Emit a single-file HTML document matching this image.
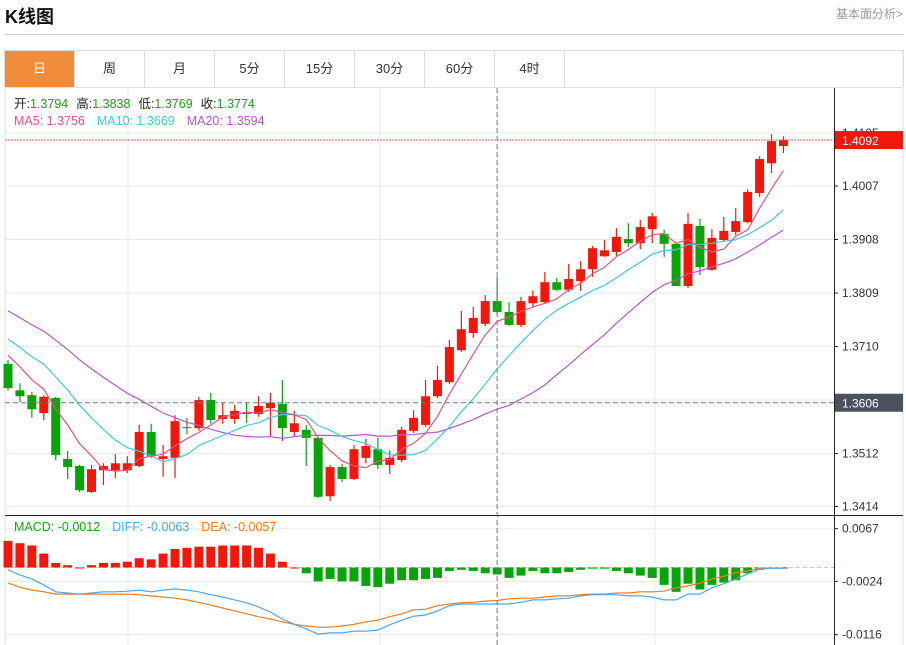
<!DOCTYPE html>
<html><head><meta charset="utf-8">
<style>
body{margin:0;background:#fff;font-family:"Liberation Sans","Noto Sans CJK SC",sans-serif;}
#wrap{position:relative;width:906px;height:645px;overflow:hidden;}
.title{position:absolute;left:5px;top:3px;font-size:18px;font-weight:bold;color:#111;}
.more{position:absolute;right:3px;top:5px;font-size:12px;color:#999;}
.hr{position:absolute;left:4px;top:34px;width:900px;height:1px;background:#ccc;}
.tabs{position:absolute;left:4px;top:50px;width:898px;height:36px;border:1px solid #ddd;border-bottom:none;display:flex;}
.tab{width:69px;height:36px;border-right:1px solid #ddd;text-align:center;line-height:36px;font-size:13px;color:#333;}
.tab.on{background:#f08c3c;color:#fff;}
svg{position:absolute;left:0;top:0;}
</style></head><body>
<div id="wrap">
<div class="title">K线图</div>
<div class="more">基本面分析&gt;</div>
<div class="hr"></div>
<div class="tabs">
<div class="tab on">日</div>
<div class="tab">周</div>
<div class="tab">月</div>
<div class="tab">5分</div>
<div class="tab">15分</div>
<div class="tab">30分</div>
<div class="tab">60分</div>
<div class="tab">4时</div>
</div>
<svg id="chart" width="906" height="645"></svg>
</div>
<script>
const opens=[1.3678,1.3629,1.3620,1.3587,1.3615,1.3502,1.3489,1.3441,1.3481,1.3481,1.3481,1.3489,1.3552,1.3502,1.3504,1.3561,1.3559,1.3611,1.3576,1.3576,1.3587,1.3585,1.3596,1.3604,1.3552,1.3556,1.3541,1.3433,1.3487,1.3465,1.3504,1.3520,1.3491,1.3500,1.3554,1.3565,1.3618,1.3644,1.3703,1.3735,1.3752,1.3794,1.3774,1.3750,1.3790,1.3792,1.3829,1.3815,1.3831,1.3853,1.3877,1.3885,1.3909,1.3901,1.3927,1.3918,1.3900,1.3822,1.3933,1.3852,1.3907,1.3922,1.3940,1.3994,1.4049,1.4081];
const highs=[1.3685,1.3642,1.3626,1.3620,1.3617,1.3517,1.3491,1.3491,1.3494,1.3511,1.3507,1.3565,1.3567,1.3528,1.3583,1.3578,1.3617,1.3624,1.3607,1.3602,1.3607,1.3618,1.3624,1.3648,1.3591,1.3565,1.3541,1.3491,1.3493,1.3528,1.3539,1.3541,1.3518,1.3561,1.3592,1.3648,1.3674,1.3722,1.3776,1.3783,1.3805,1.3838,1.3792,1.3802,1.3814,1.3848,1.3837,1.3863,1.3868,1.3896,1.3907,1.3929,1.3938,1.3944,1.3957,1.3926,1.3900,1.3957,1.3946,1.3927,1.3950,1.3966,1.4001,1.4062,1.4103,1.4099];
const lows=[1.3629,1.3607,1.3578,1.3574,1.3500,1.3465,1.3441,1.3439,1.3454,1.3467,1.3476,1.3487,1.3504,1.3469,1.3467,1.3548,1.3554,1.3567,1.3567,1.3567,1.3569,1.3580,1.3544,1.3535,1.3544,1.3489,1.3430,1.3424,1.3459,1.3463,1.3494,1.3483,1.3474,1.3496,1.3550,1.3561,1.3615,1.3641,1.3700,1.3726,1.3748,1.3769,1.3748,1.3746,1.3783,1.3790,1.3813,1.3811,1.3813,1.3839,1.3876,1.3877,1.3894,1.3890,1.3901,1.3876,1.3822,1.3818,1.3842,1.3850,1.3905,1.3916,1.3938,1.3987,1.4031,1.4068];
const closes=[1.3633,1.3618,1.3594,1.3617,1.3509,1.3487,1.3444,1.3483,1.3489,1.3494,1.3494,1.3552,1.3507,1.3507,1.3572,1.3559,1.3611,1.3574,1.3583,1.3591,1.3585,1.3600,1.3606,1.3559,1.3568,1.3541,1.3432,1.3487,1.3465,1.3520,1.3526,1.3491,1.3504,1.3556,1.3578,1.3618,1.3648,1.3709,1.3742,1.3763,1.3794,1.3774,1.3750,1.3794,1.3803,1.3829,1.3815,1.3835,1.3853,1.3892,1.3888,1.3913,1.3901,1.3931,1.3951,1.3900,1.3822,1.3937,1.3857,1.3911,1.3924,1.3942,1.3996,1.4057,1.4090,1.4092];
const priorCloses=[1.3870,1.3860,1.3850,1.3845,1.3835,1.3825,1.3815,1.3800,1.3795,1.3785,1.3775,1.3765,1.3755,1.3745,1.3730,1.3725,1.3715,1.3705,1.3692];
const diffVals=[-0.0004,-0.0013,-0.0020,-0.0030,-0.0042,-0.0044,-0.0046,-0.0044,-0.0042,-0.0042,-0.0041,-0.0039,-0.0042,-0.0039,-0.0037,-0.0039,-0.0042,-0.0047,-0.0051,-0.0056,-0.0061,-0.0068,-0.0077,-0.0089,-0.0098,-0.0106,-0.0115,-0.0113,-0.0113,-0.0110,-0.0110,-0.0108,-0.0099,-0.0091,-0.0084,-0.0082,-0.0075,-0.0066,-0.0063,-0.0063,-0.0063,-0.0063,-0.0063,-0.0060,-0.0056,-0.0056,-0.0054,-0.0053,-0.0049,-0.0047,-0.0047,-0.0047,-0.0049,-0.0049,-0.0051,-0.0056,-0.0056,-0.0046,-0.0046,-0.0035,-0.0028,-0.0020,-0.0011,-0.0003,-0.0001,-0.0001];
const deaVals=[-0.0027,-0.0034,-0.0039,-0.0042,-0.0046,-0.0046,-0.0046,-0.0046,-0.0046,-0.0046,-0.0046,-0.0047,-0.0049,-0.0051,-0.0053,-0.0056,-0.0060,-0.0065,-0.0070,-0.0075,-0.0080,-0.0085,-0.0089,-0.0094,-0.0098,-0.0101,-0.0103,-0.0103,-0.0101,-0.0098,-0.0094,-0.0091,-0.0085,-0.0080,-0.0073,-0.0072,-0.0066,-0.0063,-0.0061,-0.0060,-0.0058,-0.0057,-0.0054,-0.0053,-0.0053,-0.0051,-0.0049,-0.0049,-0.0047,-0.0046,-0.0046,-0.0044,-0.0044,-0.0042,-0.0042,-0.0041,-0.0035,-0.0032,-0.0027,-0.0020,-0.0015,-0.0009,-0.0006,-0.0001,-0.0001,-0.0001];
const priceTicks=[1.4105,1.4007,1.3908,1.3809,1.3710,1.3512,1.3414];
const macdTicks=[0.0067,-0.0024,-0.0116];
const lastPrice=1.4092, crossPrice=1.3606, hoverIndex=41;

const NS="http://www.w3.org/2000/svg";
const svg=document.getElementById('chart');
function mk(tag,attrs,parent){const e=document.createElementNS(NS,tag);for(const k in attrs)e.setAttribute(k,attrs[k]);(parent||svg).appendChild(e);return e;}
const X=i=>8+i*11.93;
const Y=p=>186+(1.4007-p)*5405;
const YM=v=>567.5-v*5792;
const L=5,R=834;

const grid=mk('g',{});


[1.4105,1.4007,1.3908,1.3809,1.3710,1.3611,1.3512,1.3414].forEach(p=>mk('line',{x1:L,x2:R,y1:Y(p),y2:Y(p),stroke:'#e3eaf0'},grid));
[0.0067,-0.0024,-0.0116].forEach(v=>mk('line',{x1:L,x2:R,y1:YM(v),y2:YM(v),stroke:'#e3eaf0'},grid));
[128,380,655].forEach(x=>mk('line',{x1:x,x2:x,y1:88,y2:645,stroke:'#e3eaf0'},grid));
mk('line',{x1:L,x2:L,y1:88,y2:645,stroke:'#e0e0e0'},grid);
mk('line',{x1:L,x2:903,y1:87.5,y2:87.5,stroke:'#e0e0e0'},grid);
mk('line',{x1:903,x2:903,y1:50,y2:645,stroke:'#e0e0e0'},grid);
const sep=mk('line',{x1:L,x2:903,y1:515.5,y2:515.5,stroke:'#222'});


const ax=mk('line',{x1:R+.5,x2:R+.5,y1:88,y2:645,stroke:'#222'});


const zl=mk('line',{x1:L,x2:R,y1:YM(0),y2:YM(0),stroke:'#9fd8e0','stroke-dasharray':'4,3'});



priceTicks.forEach(p=>{
 mk('line',{x1:R,x2:R+4,y1:Y(p),y2:Y(p),stroke:'#222'});
 const t=mk('text',{x:842,y:Y(p)+4,'font-size':12,fill:'#333'});
 t.textContent=p.toFixed(4);
 
 
});
macdTicks.forEach(v=>{
 mk('line',{x1:R,x2:R+4,y1:YM(v),y2:YM(v),stroke:'#222'});
 const t=mk('text',{x:842,y:YM(v)+4,'font-size':12,fill:'#333'});
 t.textContent=v.toFixed(4);
 
 
});

const all=priorCloses.concat(closes), off=priorCloses.length;
function ma(n){return closes.map((c,i)=>{let s=0;for(let k=0;k<n;k++)s+=all[off+i-k];return s/n;});}
const ma5=ma(5),ma10=ma(10),ma20=ma(20);

const cg=mk('g',{});


closes.forEach((c,i)=>{
 const o=opens[i],up=c>=o,col=up?'#f2170a':'#08a40a';
 const g=mk('g',{},cg);
 
 
 const x=X(i);
 mk('line',{x1:x,x2:x,y1:Y(highs[i]),y2:Y(lows[i]),stroke:col,'stroke-width':1.2},g);
 const t=Y(Math.max(o,c)),b=Y(Math.min(o,c));
 mk('rect',{x:x-4.5,y:t,width:9,height:Math.max(1,b-t),fill:col},g);
});
function line(vals,yf,col,name){
 let d='';vals.forEach((v,i)=>{d+=(d?'L':'M')+X(i).toFixed(1)+','+yf(v).toFixed(1);});
 const p=mk('path',{d:d,fill:'none',stroke:col,'stroke-width':1.2});
 
 
}
line(ma20,Y,'#b657c9','ma20-line');
line(ma10,Y,'#3ccbe0','ma10-line');
line(ma5,Y,'#f0507a','ma5-line');

const hist=diffVals.map((d,i)=>2*(d-deaVals[i]));
const hg=mk('g',{});


hist.forEach((h,i)=>{
 const y0=YM(0),y1=YM(h);
 const r=mk('rect',{x:X(i)-4.5,y:Math.min(y0,y1),width:9,height:Math.max(1,Math.abs(y1-y0)),fill:h>=0?'#f2170a':'#08a40a'},hg);
 
 
});
line(deaVals,YM,'#f37b1d','dea-line');
line(diffVals,YM,'#4aa8f0','diff-line');

const lp=mk('line',{x1:L,x2:R,y1:Y(lastPrice),y2:Y(lastPrice),stroke:'#f25a5a','stroke-dasharray':'2,1'});


const lb=mk('rect',{x:835,y:Y(lastPrice)-9,width:68,height:18,fill:'#f2170a'});


const lt=mk('text',{x:842,y:Y(lastPrice)+5,'font-size':12,fill:'#fff'});
lt.textContent=lastPrice.toFixed(4);



const ch=mk('line',{x1:L,x2:R,y1:Y(crossPrice),y2:Y(crossPrice),stroke:'#6d7885','stroke-dasharray':'5,3'});


const cv=mk('line',{x1:X(hoverIndex),x2:X(hoverIndex),y1:88,y2:645,stroke:'#6d7885','stroke-dasharray':'5,3'});


const cb=mk('rect',{x:835,y:Y(crossPrice)-9,width:68,height:18,fill:'#4a5260'});


const ct=mk('text',{x:842,y:Y(crossPrice)+5,'font-size':12,fill:'#fff'});
ct.textContent=crossPrice.toFixed(4);



function txt(parts,y,name){
 const t=mk('text',{x:14,y:y,'font-size':12.5,'font-family':'"Liberation Sans","Noto Sans CJK SC",sans-serif'});
 
 
 parts.forEach(([s,c,dx])=>{const sp=mk('tspan',{fill:c},t);if(dx)sp.setAttribute('dx',dx);sp.textContent=s;});
}
const hi=hoverIndex;
txt([['开:','#222'],[opens[hi].toFixed(4),'#15a415'],['高:','#222',8],[highs[hi].toFixed(4),'#15a415'],['低:','#222',8],[lows[hi].toFixed(4),'#15a415'],['收:','#222',8],[closes[hi].toFixed(4),'#15a415']],108,'ohlc-legend');
txt([['MA5: '+ma5[hi].toFixed(4),'#f0507a'],['MA10: '+ma10[hi].toFixed(4),'#3ccbe0',12],['MA20: '+ma20[hi].toFixed(4),'#b657c9',12]],125,'ma-legend');
txt([['MACD: '+hist[hi].toFixed(4),'#15a415'],['DIFF: '+diffVals[hi].toFixed(4),'#4aa8f0',12],['DEA: '+deaVals[hi].toFixed(4),'#f37b1d',12]],531,'macd-legend');
</script>
</body></html>
